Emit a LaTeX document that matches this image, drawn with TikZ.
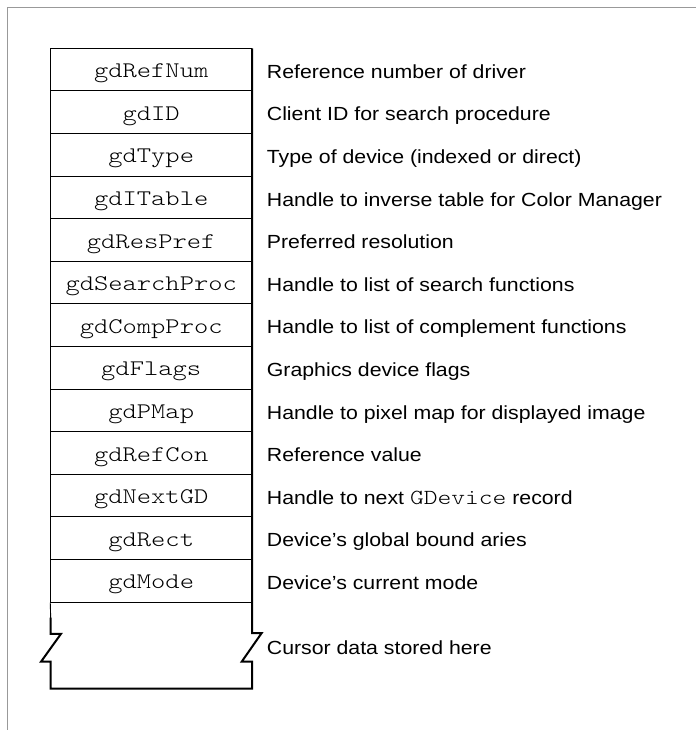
\documentclass[tikz,border=0pt]{standalone}
\usepackage{fontspec}
\setmainfont{Liberation Sans}[FakeStretch=1.12]
\newfontfamily\monof{lmmonolt10-regular.otf}[FakeStretch=1.22]
\newcommand\codeword[1]{{\monof\fontsize{21.5}{22}\selectfont #1}}
\begin{document}
\begin{tikzpicture}[x=1pt,y=-1pt,
  field/.style={draw=black, line width=0.9pt, inner sep=0pt,
    minimum width=201pt, minimum height=42.6pt,
    text height=18pt, text depth=1.8pt,
    font=\monof\fontsize{22.3}{24}\selectfont},
  desc/.style={anchor=base west, inner sep=0pt,
    font=\fontsize{19}{22}\selectfont},
  shadowline/.style={line width=2pt, line join=miter}]
\useasboundingbox (0,0) rectangle (696,730);
% frame
\draw[black!40, line width=1pt] (7.3,730) -- (7.3,7.3) -- (696,7.3);
% rows
\foreach \i/\f/\d in {
  0/gdRefNum/{Reference number of driver},
  1/gdID/{Client ID for search procedure},
  2/gdType/{Type of device (indexed or direct)},
  3/gdITable/{Handle to inverse table for Color Manager},
  4/gdResPref/{Preferred resolution},
  5/gdSearchProc/{Handle to list of search functions},
  6/gdCompProc/{Handle to list of complement functions},
  7/gdFlags/{Graphics device flags},
  8/gdPMap/{Handle to pixel map for displayed image},
  9/gdRefCon/{Reference value},
  10/gdNextGD/{Handle to next \codeword{GDevice} record},
  11/gdRect/{Device’s global bound aries},
  12/gdMode/{Device’s current mode}}{
  \node[field] (f\i) at (151.2, 48.3+21.3+\i*42.6) {\f};
  \node[desc] (d\i) at (266.7, 48.3+29.9+\i*42.6) {\d};
}
% thick right edge (shadow)
\draw[shadowline] (252.2,48.3) -- (252.2,633) -- (261.7,633) -- (241.7,661.7)
  -- (252.2,661.7) -- (252.2,688.5) -- (50.7,688.5) -- (50.7,661.7)
  -- (41,661.7) -- (61,633.8) -- (50.7,633.8) -- (50.7,617.5);
\draw[line width=0.9pt] (f12.south west) -- (50.7,618);
% bottom label
\node[desc] (cur) at (266.7,654.5) {Cursor data stored here};
\end{tikzpicture}
\end{document}
